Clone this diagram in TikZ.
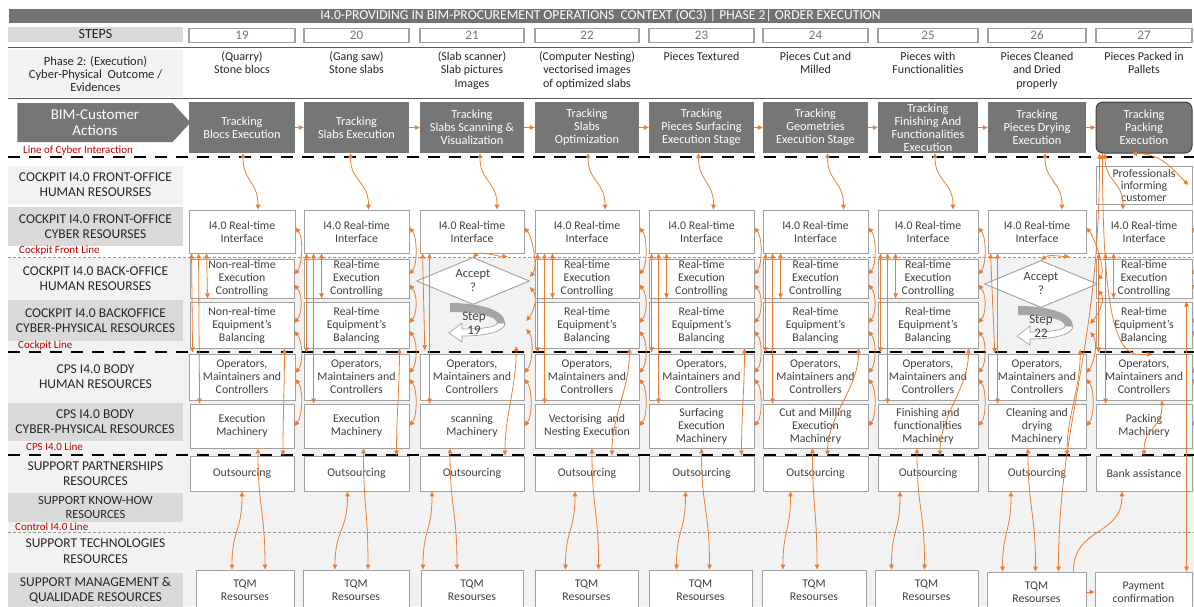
\documentclass[tikz,border=0pt]{standalone}
\usepackage{fontspec}
\setmainfont{Carlito}
\usetikzlibrary{shapes.geometric, shapes.symbols, arrows.meta}

\definecolor{bargray}{HTML}{767171}
\definecolor{trkgray}{HTML}{767676}
\definecolor{lightbg}{HTML}{F2F2F2}
\definecolor{midbg}{HTML}{D9D9D9}
\definecolor{linkorange}{HTML}{ED7D31}
\definecolor{linered}{HTML}{C00000}
\definecolor{boxline}{HTML}{A0A0A0}
\definecolor{boxtext}{HTML}{404040}

\begin{document}
\begin{tikzpicture}[x=1pt, y=-1pt,
  box/.style={draw=boxline, line width=0.9pt, fill=white, align=center, text=boxtext, font=\fontsize{11.8}{13}\selectfont, inner sep=1pt},
  stepbox/.style={draw=boxline, line width=1.2pt, fill=white, text=black!55, font=\fontsize{13}{14}\selectfont, inner sep=0pt, minimum height=14pt},
  trk/.style={fill=trkgray, text=white, align=center, font=\fontsize{12.3}{13}\selectfont, inner sep=0pt, minimum height=51pt},
  lbl/.style={align=center, text=black!85, font=\fontsize{13.5}{15}\selectfont, inner sep=0pt, minimum width=175pt},
  outc/.style={align=center, anchor=north, text=black!85, font=\fontsize{12}{13.5}\selectfont, inner sep=0pt},
  redl/.style={anchor=west, text=linered, font=\fontsize{11}{12}\selectfont, inner sep=0pt},
  accept/.style={diamond, draw=boxline, line width=0.9pt, fill=white, aspect=2.4, inner sep=0pt, minimum width=113pt, minimum height=47pt, align=center, text=boxtext, font=\fontsize{12.5}{14}\selectfont},
  stepnote/.style={align=center, text=boxtext, font=\fontsize{13}{14}\selectfont, inner sep=0pt, minimum height=46pt},
  conn/.style={draw=linkorange, line width=0.8pt, {Triangle[length=5pt,width=4.5pt]}-{Triangle[length=5pt,width=4.5pt]}},
  flow/.style={draw=linkorange, line width=0.8pt, -{Triangle[length=5pt,width=4.5pt]}},
  cyberdash/.style={line width=2.4pt, dash pattern=on 12pt off 9pt},
  thindash/.style={draw=black!40, line width=0.6pt, dash pattern=on 3pt off 2pt},
  uturn/.pic={
    \fill[black!35] (-23,22) .. controls (10,22) and (32,30) .. (32,42) -- (24,42) .. controls (24,36) and (8,31) .. (-23,31) -- cycle;
    \filldraw[fill=white, draw=black!40, line width=0.6pt] (32,42) .. controls (32,50) and (15,55) .. (-11,55) -- (-11,61) -- (-24,52) -- (-11,42) -- (-11,48) .. controls (10,48) and (24,46) .. (24,42) -- cycle;
  }]
\useasboundingbox (0,0) rectangle (1194,606);
\fill[white] (0,0) rectangle (1194,606);
\fill[lightbg] (8,258) rectangle (1194,606);

% header
\node[fill=bargray, text=white, minimum width=1183pt, minimum height=13.5pt, inner sep=0pt, font=\fontsize{13.6}{13.6}\selectfont] (title) at (600.5,16) {I4.0-PROVIDING IN BIM-PROCUREMENT OPERATIONS~ CONTEXT (OC3) | PHASE 2| ORDER EXECUTION};
\node[lbl, fill=midbg, minimum height=15pt, font=\fontsize{14}{15}\selectfont] (steps) at (95.5,34.5) {STEPS};
\node[lbl, fill=lightbg, minimum height=47pt, font=\fontsize{12.5}{13}\selectfont] (phase) at (95.5,73.5) {Phase 2: (Execution)\\Cyber-Physical~ Outcome /\\Evidences};
\node[signal, signal to=east, signal pointer angle=95, fill=trkgray, text=white, minimum width=173pt, minimum height=39pt, inner sep=0pt, align=center, font=\fontsize{15}{15.5}\selectfont] (bim) at (95,122.5) {BIM-Customer\\Actions};
\draw[black!65, line width=0.8pt] (8,47.5) -- (1192,47.5);
\draw[black!65, line width=0.8pt] (8,98) -- (1192,98);

% row labels
\node[lbl, fill=lightbg, minimum height=38pt] (fohum) at (95.5,185) {COCKPIT I4.0 FRONT-OFFICE\\HUMAN RESOURSES};
\node[lbl, fill=midbg, minimum height=39pt] (focyb) at (95.5,226.5) {COCKPIT I4.0 FRONT-OFFICE\\CYBER RESOURSES};
\node[lbl, fill=lightbg, minimum height=40pt] (bohum) at (95.5,278.5) {COCKPIT I4.0 BACK-OFFICE\\HUMAN RESOURSES};
\node[lbl, fill=midbg, minimum height=41pt] (bocyb) at (95.5,320.5) {COCKPIT I4.0 BACKOFFICE\\CYBER-PHYSICAL RESOURCES};
\node[lbl, fill=lightbg, minimum height=47pt] (cpshum) at (95.5,377) {CPS I4.0 BODY\\HUMAN RESOURCES};
\node[lbl, fill=midbg, minimum height=38pt] (cpscyb) at (95,422) {CPS I4.0 BODY\\CYBER-PHYSICAL RESOURCES};
\node[lbl, fill=lightbg, minimum height=35pt] (suppart) at (95.5,474) {SUPPORT PARTNERSHIPS\\RESOURCES};
\node[lbl, fill=midbg, minimum height=29pt, font=\fontsize{12.5}{14}\selectfont] (supknow) at (95.5,507.5) {SUPPORT KNOW-HOW\\RESOURCES};
\node[lbl, fill=lightbg, minimum height=32pt, font=\fontsize{13.5}{16}\selectfont] (suptech) at (95.5,551) {SUPPORT TECHNOLOGIES\\RESOURCES};
\node[lbl, fill=midbg, minimum height=34pt] (supman) at (95.5,590) {SUPPORT MANAGEMENT \&\\QUALIDADE RESOURCES};

\node[redl] (cyberline) at (23,151) {Line of Cyber Interaction};
\node[redl] (frontline) at (19,251) {Cockpit Front Line};
\node[redl] (cockline) at (18,346) {Cockpit Line};
\node[redl] (cpsline) at (26,447) {CPS I4.0 Line};
\node[redl] (ctrlline) at (15,527) {Control I4.0 Line};

% columns
\foreach \c/\x/\w in {19/242/106,20/356.5/105,21/472/104,22/587/104,23/701.5/105,24/815.5/105,25/928/100,26/1037/98,27/1144/96}{
  \node[stepbox, minimum width=\w pt] (step\c) at (\x,35.5) {\c};
  \node[box, minimum width=\w pt, minimum height=43pt] (rti\c) at (\x,231.5) {I4.0 Real-time\\Interface};
  \node[box, minimum width=\w pt, minimum height=46pt] (ops\c) at (\x,377) {Operators,\\Maintainers and\\Controllers};
}
\foreach \c/\x/\t in {19/242/{(Quarry)\\Stone blocs}, 20/356.5/{(Gang saw)\\Stone slabs}, 21/472/{(Slab scanner)\\Slab pictures\\Images}, 22/587/{(Computer Nesting)\\vectorised images\\of optimized slabs}, 23/701.5/{Pieces Textured}, 24/815.5/{Pieces Cut and\\Milled}, 25/928/{Pieces with\\Functionalities}, 26/1037/{Pieces Cleaned\\and Dried\\properly}, 27/1144/{Pieces Packed in\\Pallets}}
  \node[outc] (res\c) at (\x,51.5) {\t};
\foreach \c/\x/\w/\t in {19/242/106/{Tracking\\Blocs Execution}, 20/356.5/105/{Tracking\\Slabs Execution}, 21/472/104/{Tracking\\Slabs Scanning \&\\Visualization}, 22/587/104/{Tracking\\Slabs\\Optimization}, 23/701.5/105/{Tracking\\Pieces Surfacing\\Execution Stage}, 24/815.5/105/{Tracking\\Geometries\\Execution Stage}, 25/928/100/{Tracking\\Finishing And\\Functionalities\\Execution}, 26/1037/98/{Tracking\\Pieces Drying\\Execution}}
  \node[trk, minimum width=\w pt] (track\c) at (\x,127.5) {\t};
\node[trk, minimum width=96pt, rounded corners=7pt, draw=black!75, line width=1pt] (track27) at (1144,127.5) {Tracking\\Packing\\Execution};

\node[box, minimum width=96pt, minimum height=38pt, font=\fontsize{11.8}{12}\selectfont] (prof27) at (1144,185) {Professionals\\informing\\customer};

\node[box, minimum width=104pt, minimum height=39pt] (ctrl19) at (242,278.5) {Non-real-time\\Execution\\Controlling};
\foreach \c/\x/\w in {20/356.5/105,22/587/104,23/701.5/105,24/815.5/105,25/928/100,27/1144/96}
  \node[box, minimum width=\w pt, minimum height=39pt] (ctrl\c) at (\x,278.5) {Real-time\\Execution\\Controlling};
\node[accept] (ctrl21) at (473,281) {Accept\\?};
\node[accept] (ctrl26) at (1041,284) {Accept\\?};

\node[box, minimum width=104pt, minimum height=46pt] (bal19) at (242,325) {Non-real-time\\Equipment's\\Balancing};
\foreach \c/\x/\w in {20/356.5/105,22/587/104,23/701.5/105,24/815.5/105,25/928/100,27/1144/96}
  \node[box, minimum width=\w pt, minimum height=46pt] (bal\c) at (\x,325) {Real-time\\Equipment's\\Balancing};
\pic at (473,281) {uturn};
\node[stepnote, minimum width=104pt] (bal21) at (474,323) {Step\\19};
\pic at (1041,284) {uturn};
\node[stepnote, minimum width=98pt] (bal26) at (1041,326) {Step\\22};

\foreach \c/\x/\w/\t in {19/242/104/{Execution\\Machinery}, 20/356.5/105/{Execution\\Machinery}, 21/472/104/{scanning\\Machinery}, 22/587/104/{Vectorising~ and\\Nesting Execution}, 23/701.5/105/{Surfacing\\Execution\\Machinery}, 24/815.5/105/{Cut and Milling\\Execution\\Machinery}, 25/928/100/{Finishing and\\functionalities\\Machinery}, 26/1037/98/{Cleaning and\\drying\\Machinery}, 27/1144/96/{Packing\\Machinery}}
  \node[box, minimum width=\w pt, minimum height=44pt] (mach\c) at (\x,426) {\t};

\foreach \c/\x/\w in {19/242/104,20/356.5/105,21/472/104,22/587/104,23/701.5/105,24/815.5/105,25/928/100,26/1037/98}
  \node[box, minimum width=\w pt, minimum height=35pt] (supp\c) at (\x,473.5) {Outsourcing};
\node[box, minimum width=96pt, minimum height=35pt] (supp27) at (1144,473.5) {Bank assistance};

\foreach \c/\x/\w/\y in {19/245/98/590, 20/356/106/590, 21/472/102/590, 22/586.5/103/590, 23/700.5/103/590, 24/814/104/590, 25/926.5/103/590, 26/1036.5/99/592}
  \node[box, minimum width=\w pt, minimum height=40pt] (tqm\c) at (\x,\y) {TQM\\Resourses};
\node[box, minimum width=97pt, minimum height=40pt] (pay27) at (1143.5,592) {Payment\\confirmation};

% lines of interaction
\draw[cyberdash] (8,157) -- (1194,157);
\draw[thindash] (8,257) -- (1194,257);
\draw[cyberdash, line width=2pt] (8,352) -- (1194,352);
\draw[cyberdash] (8,455) -- (1194,455);
\draw[thindash] (8,532) -- (1194,532);

% connectors
\foreach \a/\b in {19/20,20/21,21/22,22/23,23/24,24/25,25/26,26/27}
  \draw[flow] (track\a) -- (track\b);

\foreach \c/\a/\b in {19/1/16,20/-6/12,21/8/25,22/1/18,23/-3/12,24/12/28,25/7/25,26/8/25,27/-39/-21}
  \draw[conn] ([xshift=\a pt]track\c.south) .. controls +(0,28) and +(0,-28) .. ([xshift=\b pt]rti\c.north);

\foreach \c in {19,...,27}{
  \draw[conn] ([yshift=4pt]rti\c.east) .. controls +(8,10) and +(8,-10) .. ([yshift=4pt]ctrl\c.east);
  \draw[conn] ([yshift=-6pt]ctrl\c.east) .. controls +(8,10) and +(8,-10) .. ([yshift=2pt]bal\c.east);
  \draw[conn] ([yshift=-6pt]bal\c.east) .. controls +(8,10) and +(8,-10) .. ([yshift=4pt]ops\c.east);
  \draw[conn] ([yshift=-2pt]ops\c.east) .. controls +(8,10) and +(8,-10) .. (mach\c.east);
  \draw[conn] ([xshift=3pt]rti\c.south west) -- ([xshift=3pt,yshift=-4pt]bal\c.south west);
  \draw[conn] ([xshift=10pt]rti\c.south west) -- ([xshift=10pt]mach\c.north west);
}
\foreach \c in {19,20,22,23,24,25,27}
  \draw[conn] ([xshift=18pt]rti\c.south west) -- ([xshift=18pt]ctrl\c.south west);
\draw[conn] (ctrl21.north) .. controls +(8,-6) and +(-10,0) .. ([xshift=-17pt,yshift=-3pt]rti21.south east);
\draw[conn] (ctrl26.north) .. controls +(8,-6) and +(-10,0) .. ([xshift=-17pt,yshift=-3pt]rti26.south east);

\foreach \c/\m/\n/\o/\q/\p in {19/16/20/0/-13/41, 20/7/12/-9/-21/40, 21/-22/-15/-40/-49/33, 22/5/12/-12/-21/25, 23/0/9/-16/-24/40, 24/-3/3/-25/-31/12, 25/-11/-2/-28/-35/12, 26/-9/-1/-26/-34/30}{
  \draw[conn] ([xshift=-10pt]bal\c.south east) .. controls +(0,40) and +(0,-40) .. ([xshift=\p pt]supp\c.north);
  \draw[conn] ([xshift=\m pt]mach\c.south) .. controls +(0,60) and +(0,-60) .. ([xshift=\n pt]tqm\c.north);
  \draw[conn] ([xshift=\o pt]supp\c.south) .. controls +(0,40) and +(0,-40) .. ([xshift=\q pt]tqm\c.north);
}

\draw[conn] ([xshift=-12pt]track27.south) .. controls +(30,0) and +(-15,-15) .. ([xshift=-4pt]prof27.east);
\draw[conn] ([xshift=4pt]track27.south west) .. controls +(0,200) and +(0,-150) .. ([xshift=22pt]tqm26.north);
\draw[conn] ([xshift=7pt]track27.south west) .. controls +(0,190) and +(-30,5) .. ([xshift=8pt]ops27.north);
\draw[conn] ([xshift=18pt]ops27.south) .. controls +(0,30) and +(0,-30) .. (supp27.north);
\draw[conn] ([xshift=-6pt]bal27.north east) -- ([xshift=-6pt]pay27.north east);
\draw[flow] ([xshift=-13pt]tqm26.north east) .. controls +(0,-45) and +(0,45) .. ([xshift=-22pt]supp27.south);
\draw[flow] (tqm26.east) -- (pay27.west);
\end{tikzpicture}
\end{document}
